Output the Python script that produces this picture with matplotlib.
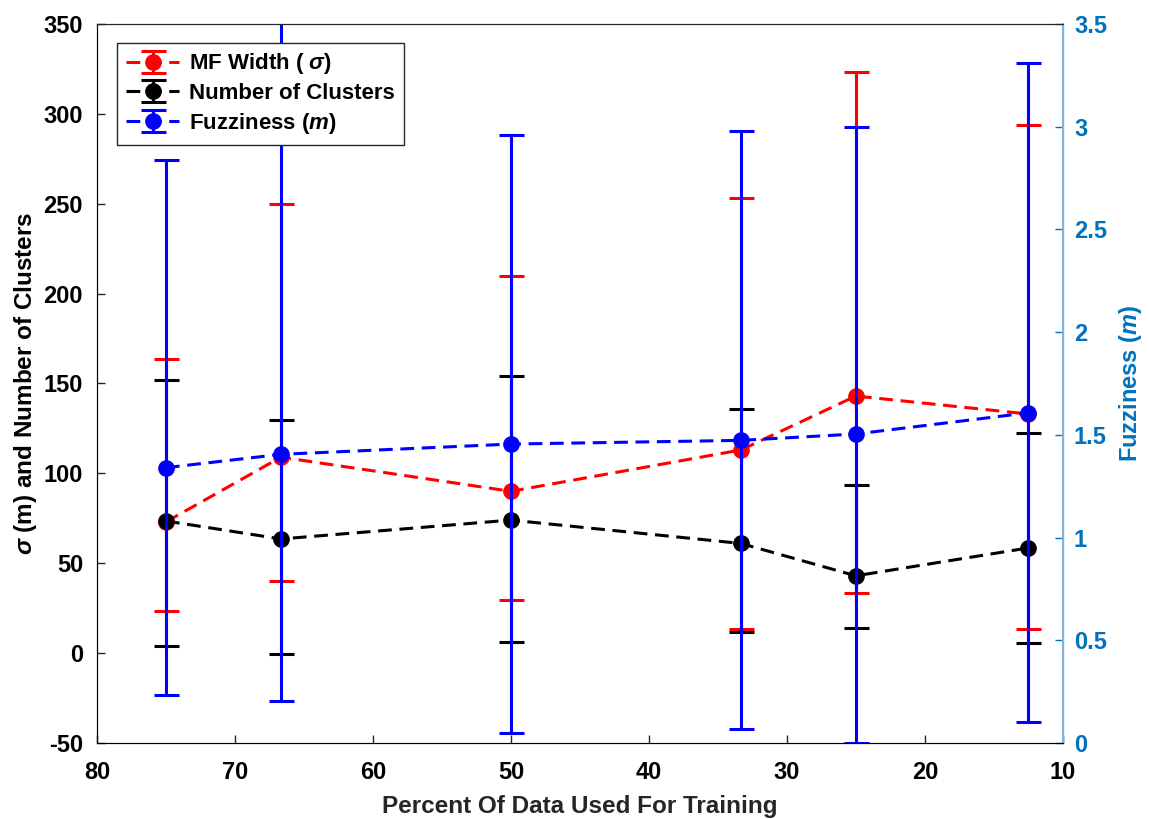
import numpy as np
import matplotlib
matplotlib.use('Agg')
import matplotlib.pyplot as plt

plt.rcParams['font.family'] = ['Liberation Sans', 'DejaVu Sans']
plt.rcParams['font.weight'] = 'bold'
plt.rcParams['axes.unicode_minus'] = False
plt.rcParams['mathtext.fontset'] = 'custom'
plt.rcParams['mathtext.it'] = 'Liberation Sans:bold:italic'
plt.rcParams['mathtext.rm'] = 'Liberation Sans:bold'

# percent of data used for training
pct = [75, 66.67, 50, 33.33, 25, 12.5]

# MF width (sigma): mean, lower and upper ends of the error bars
sigma_mean = [73, 109, 90, 113, 143, 133]
sigma_low = [23.5, 40, 29.5, 13.2, 33.2, 13.4]
sigma_high = [163.5, 250, 210, 253, 323, 293.5]

# number of clusters
clus_mean = [73.5, 63.5, 74, 61, 43, 58.5]
clus_low = [4, -0.5, 6, 12, 13.7, 5.6]
clus_high = [152, 129.5, 154, 136, 93.5, 122.5]

# fuzziness m (right axis)
m_mean = [1.34, 1.405, 1.455, 1.473, 1.504, 1.607]
m_low = [0.235, 0.202, 0.05, 0.07, 0.0, 0.10]
m_high = [2.84, 3.6, 2.96, 2.98, 3.0, 3.31]

mblue = '#0072BD'
dash = (4.5, 2.5)

fig = plt.figure(figsize=(11.49, 8.19), dpi=100)
ax = fig.add_axes([0.0844, 0.0928, 0.8406, 0.878])
ax2 = ax.twinx()


def err(mean, low, high):
    mean = np.array(mean)
    return [mean - np.array(low), np.array(high) - mean]


kw = dict(marker='o', markersize=11, linewidth=2.2, elinewidth=2.2,
          capsize=9, capthick=2.2)

h1 = ax.errorbar(pct, sigma_mean, yerr=err(sigma_mean, sigma_low, sigma_high),
                 color='red', **kw)
h1.lines[0].set_dashes(dash)
h2 = ax.errorbar(pct, clus_mean, yerr=err(clus_mean, clus_low, clus_high),
                 color='black', **kw)
h2.lines[0].set_dashes(dash)
h3 = ax2.errorbar(pct, m_mean, yerr=err(m_mean, m_low, m_high),
                  color='blue', **kw)
h3.lines[0].set_dashes(dash)

ax.set_xlim(80, 10)
ax.set_ylim(-50, 350)
ax2.set_ylim(0, 3.5)
ax.set_xticks(np.arange(80, 9, -10))
ax.set_yticks(np.arange(-50, 351, 50))
ax2.set_yticks(np.arange(0, 3.51, 0.5))
ax2.set_yticklabels(['0', '0.5', '1', '1.5', '2', '2.5', '3', '3.5'])

for a in (ax, ax2):
    a.tick_params(direction='in', length=6, width=1, labelsize=17)
ax.tick_params(axis='y', pad=10)
ax.tick_params(axis='x', pad=13)
ax2.tick_params(axis='y', pad=8)
ax.tick_params(axis='both', colors='#262626', labelcolor='black')
ax2.tick_params(axis='y', colors=mblue, labelcolor=mblue)
for s in ['left', 'bottom', 'top']:
    ax.spines[s].set_color('#262626')
ax2.spines['right'].set_color('#7fb5dd')
ax2.spines['right'].set_linewidth(1.5)
ax2.spines['top'].set_color('#262626')

ax.set_xlabel('Percent Of Data Used For Training', fontsize=17.5, fontweight='bold',
              color='#262626', labelpad=8)
ax.set_ylabel(r'$\sigma$ (m) and Number of Clusters', fontsize=17.5, fontweight='bold',
              labelpad=3)
ax2.set_ylabel(r'Fuzziness ($m$)', fontsize=17, fontweight='bold', color=mblue,
               labelpad=7)

leg = ax2.legend([h1, h2, h3], [r'MF Width ( $\sigma$)', 'Number of Clusters',
                                r'Fuzziness ($m$)'],
                 loc='upper left', bbox_to_anchor=(0.021, 0.974), fontsize=16,
                 fancybox=False, framealpha=1, edgecolor='#262626',
                 handlelength=2.4, borderpad=0.4, labelspacing=0.3,
                 handletextpad=0.45, borderaxespad=0)
leg.get_frame().set_linewidth(1)

fig.savefig('out.png', dpi=100)
